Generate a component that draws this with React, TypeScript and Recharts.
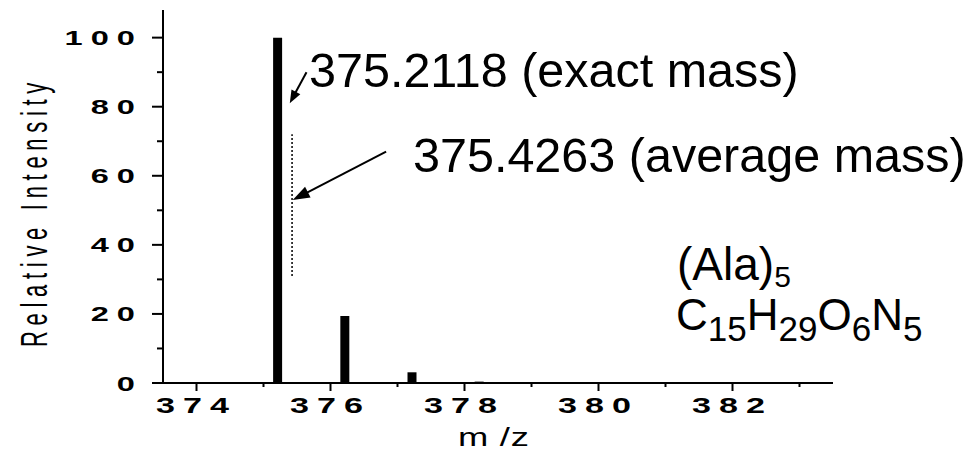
import { ComposedChart, Bar, XAxis, YAxis, ReferenceLine } from "recharts";

/* ── Data ───────────────────────────────────────────── */

// isotope peaks of (Ala)5, m/z and relative intensity
const MZ = [375.2118, 376.2151, 377.2176, 378.22];
const INTENSITY = [100, 19.4, 3.1, 0.4];

const X_TICKS = [374, 375, 376, 377, 378, 379, 380, 381, 382, 383];
const Y_TICKS = [0, 10, 20, 30, 40, 50, 60, 70, 80, 90, 100];

const EXACT_MASS = 375.2118;
const AVERAGE_MASS = 375.4263;

const data = MZ.map((mz, i) => ({ mz, intensity: INTENSITY[i] }));

/* ── Style ──────────────────────────────────────────── */

const FONT = "'Liberation Sans', Arial, Helvetica, sans-serif";
const WIDE = 1.55; // axis lettering is drawn stretched sideways
const INK = "#000";

/* ── Axis ticks (major + minor) ─────────────────────── */

function XTick(props: any) {
  const { x, y, payload } = props;
  const v = payload.value as number;
  const major = v % 2 === 0;
  return (
    <g>
      <line x1={x} x2={x} y1={y} y2={y + (major ? 8 : 4)} stroke={INK} strokeWidth={2} />
      {major && (
        <text
          transform={`translate(${x},${y + 29.5}) scale(${WIDE},1)`}
          textAnchor="middle"
          fontSize={22}
          fontWeight="bold"
          letterSpacing={5.2}
          fontFamily={FONT}
          fill={INK}
        >
          {v}
        </text>
      )}
    </g>
  );
}

function YTick(props: any) {
  const { x, y, payload } = props;
  const v = payload.value as number;
  const major = v % 20 === 0;
  return (
    <g>
      <line x1={x - (major ? 11 : 6)} x2={x} y1={y} y2={y} stroke={INK} strokeWidth={2} />
      {major && (
        <text
          transform={`translate(${x - 20},${y + 7.5}) scale(${WIDE},1)`}
          textAnchor="end"
          fontSize={21}
          fontWeight="bold"
          letterSpacing={5.2}
          fontFamily={FONT}
          fill={INK}
        >
          {v}
        </text>
      )}
    </g>
  );
}

/* ── Arrow shape for annotation segments ────────────── */

function Arrow(props: any) {
  const { x1, y1, x2, y2 } = props;
  const head = props.head ?? 14;
  const half = props.half ?? 5.5;
  const dx = x2 - x1;
  const dy = y2 - y1;
  const len = Math.hypot(dx, dy) || 1;
  const ux = dx / len;
  const uy = dy / len;
  const bx = x2 - ux * head;
  const by = y2 - uy * head;
  const pts = [
    `${x2},${y2}`,
    `${bx - uy * half},${by + ux * half}`,
    `${bx + uy * half},${by - ux * half}`,
  ].join(" ");
  return (
    <g>
      <line x1={x1} y1={y1} x2={bx + ux * 2} y2={by + uy * 2} stroke={INK} strokeWidth={2} />
      <polygon points={pts} fill={INK} />
    </g>
  );
}

/* ── Chart ──────────────────────────────────────────── */

export default function App() {
  return (
    <div style={{ position: "absolute", left: 0, top: 0, width: 974, height: 452, background: "#fff", overflow: "hidden" }}>
      <ComposedChart
        width={974}
        height={452}
        data={data}
        margin={{ top: 10, right: 141, left: 0, bottom: 0 }}
      >
        <XAxis
          type="number"
          dataKey="mz"
          domain={[373.5, 383.5]}
          ticks={X_TICKS}
          interval={0}
          height={69}
          tickSize={0}
          tickMargin={0}
          tickLine={false}
          tick={<XTick />}
          axisLine={{ stroke: INK, strokeWidth: 2 }}
          allowDataOverflow
        />
        <YAxis
          type="number"
          domain={[0, 108]}
          ticks={Y_TICKS}
          interval={0}
          width={163}
          tickSize={0}
          tickMargin={0}
          tickLine={false}
          tick={<YTick />}
          axisLine={{ stroke: INK, strokeWidth: 2 }}
          allowDataOverflow
        />

        <Bar dataKey="intensity" fill={INK} barSize={9} isAnimationActive={false} />

        {/* average mass marker */}
        <ReferenceLine
          segment={[{ x: AVERAGE_MASS, y: 31 }, { x: AVERAGE_MASS, y: 72 }]}
          stroke={INK}
          strokeWidth={1.5}
          strokeDasharray="2 2"
        />

        {/* annotation arrows */}
        <ReferenceLine
          segment={[{ x: EXACT_MASS + 0.43, y: 90 }, { x: EXACT_MASS + 0.18, y: 81 }]}
          shape={(p: any) => <Arrow {...p} head={13} half={5} />}
        />
        <ReferenceLine
          segment={[{ x: 376.83, y: 67 }, { x: AVERAGE_MASS + 0.01, y: 53 }]}
          shape={(p: any) => <Arrow {...p} head={17} half={6} />}
        />

        <g fontFamily={FONT} fill={INK}>
          <text x={309} y={87} fontSize={48.5}>375.2118 (exact mass)</text>
          <text x={413} y={172} fontSize={48.5}>375.4263 (average mass)</text>

          <text x={677} y={280} fontSize={46}>
            (Ala)<tspan fontSize={30} dy={7}>5</tspan>
          </text>
          <text x={676} y={330} fontSize={44}>
            C<tspan fontSize={35} dy={11}>15</tspan>
            <tspan dy={-11}>H</tspan><tspan fontSize={35} dy={11}>29</tspan>
            <tspan dy={-11}>O</tspan><tspan fontSize={35} dy={11}>6</tspan>
            <tspan dy={-11}>N</tspan><tspan fontSize={35} dy={11}>5</tspan>
          </text>

          {/* axis titles */}
          <text
            transform={`translate(458,446) scale(1.4,1)`}
            fontSize={26}
            letterSpacing={0.5}
          >
            m /z
          </text>
          <text
            transform={`translate(47,212) scale(1.7,1) rotate(-90)`}
            textAnchor="middle"
            fontSize={22}
            letterSpacing={5.7}
          >
            Relative Intensity
          </text>
        </g>
      </ComposedChart>
    </div>
  );
}
